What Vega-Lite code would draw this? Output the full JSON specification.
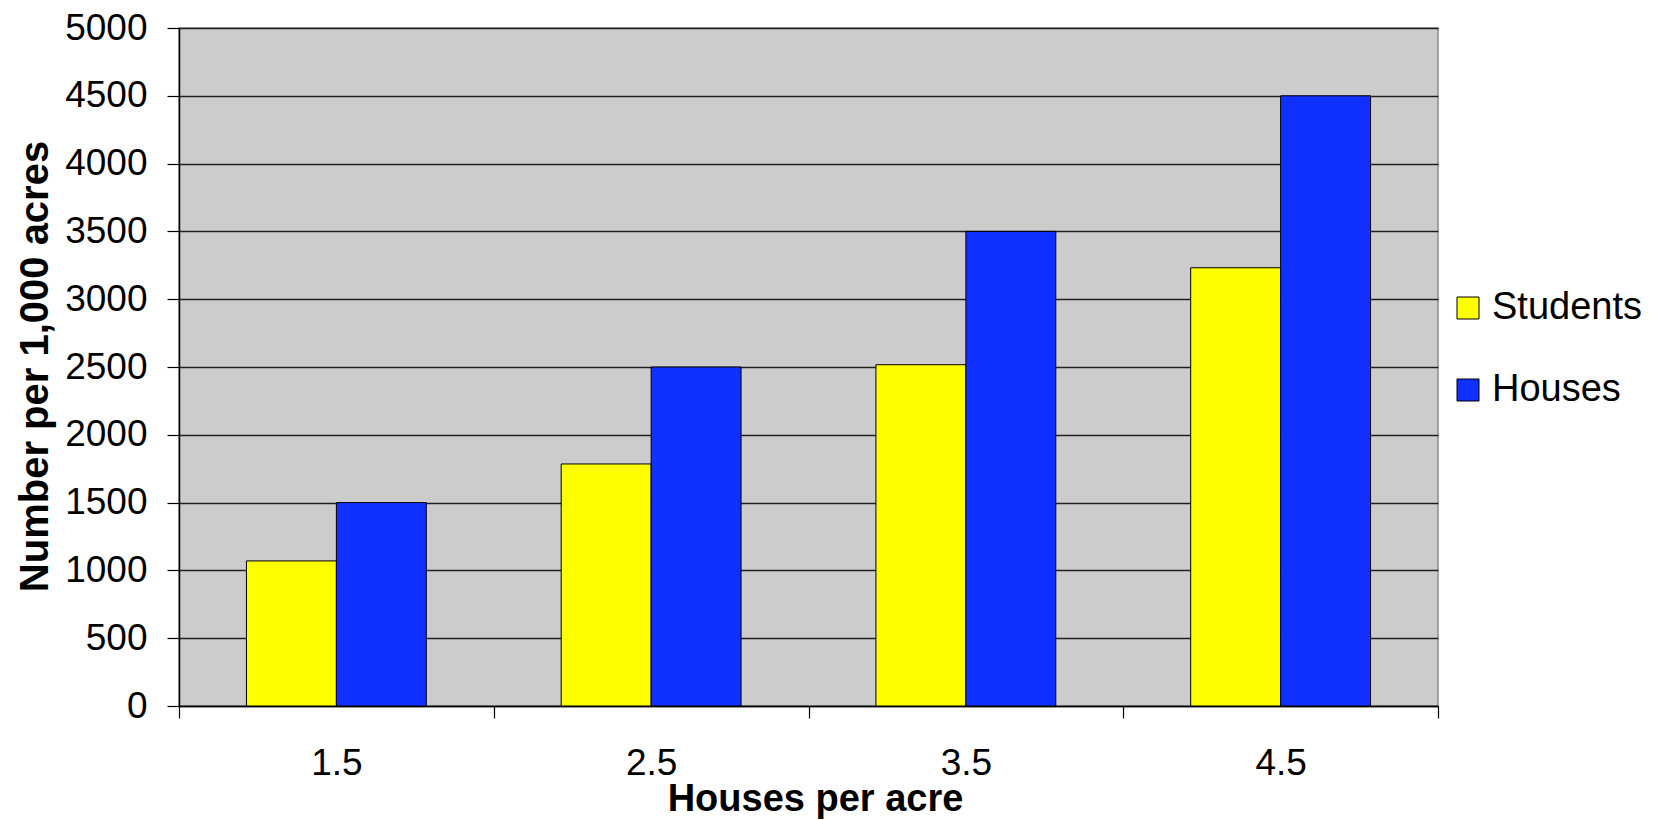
{
  "$schema": "https://vega.github.io/schema/vega-lite/v6.json",
  "width": 1259,
  "height": 678,
  "autosize": {"type": "none"},
  "padding": {"left": 179, "top": 28, "right": 221, "bottom": 114},
  "background": "white",
  "config": {
    "font": "Liberation Sans",
    "view": {"fill": "#CCCCCC", "stroke": "#8C8C8C", "strokeWidth": 1.5}
  },
  "data": {
    "values": [
      {"density": "1.5", "series": "Students", "value": 1070},
      {"density": "1.5", "series": "Houses", "value": 1500},
      {"density": "2.5", "series": "Students", "value": 1785},
      {"density": "2.5", "series": "Houses", "value": 2500},
      {"density": "3.5", "series": "Students", "value": 2517},
      {"density": "3.5", "series": "Houses", "value": 3500},
      {"density": "4.5", "series": "Students", "value": 3232},
      {"density": "4.5", "series": "Houses", "value": 4500}
    ]
  },
  "mark": {"type": "bar", "stroke": "#000000", "strokeWidth": 1},
  "encoding": {
    "x": {
      "field": "density",
      "type": "nominal",
      "sort": ["1.5", "2.5", "3.5", "4.5"],
      "scale": {"paddingInner": 0, "paddingOuter": 0},
      "axis": {
        "title": "Houses per acre",
        "titleFont": "Liberation Sans",
        "titleFontSize": 38,
        "titleFontWeight": "bold",
        "titleColor": "#000000",
        "titleBaseline": "alphabetic",
        "titleX": 636,
        "titleY": 104,
        "labelAngle": 0,
        "labelFontSize": 37,
        "labelColor": "#000000",
        "labelPadding": 27,
        "tickBand": "extent",
        "tickSize": 12,
        "tickColor": "#000000",
        "tickWidth": 1.2,
        "domainColor": "#000000",
        "domainWidth": 1.5,
        "grid": false
      }
    },
    "xOffset": {
      "field": "series",
      "type": "nominal",
      "sort": ["Students", "Houses"],
      "scale": {"paddingInner": 0, "paddingOuter": 0.75}
    },
    "y": {
      "field": "value",
      "type": "quantitative",
      "scale": {"domain": [0, 5000], "nice": false},
      "axis": {
        "title": "Number per 1,000 acres",
        "titleFont": "Liberation Sans",
        "titleFontSize": 40,
        "titleFontWeight": "bold",
        "titleColor": "#000000",
        "titleBaseline": "alphabetic",
        "titleX": -132,
        "titleY": 338,
        "values": [0, 500, 1000, 1500, 2000, 2500, 3000, 3500, 4000, 4500, 5000],
        "format": "d",
        "labelFontSize": 37,
        "labelColor": "#000000",
        "labelPadding": 20,
        "tickSize": 12,
        "tickColor": "#000000",
        "tickWidth": 1.2,
        "domainColor": "#000000",
        "domainWidth": 1.5,
        "grid": true,
        "gridColor": "#202020",
        "gridWidth": 1.3
      }
    },
    "color": {
      "field": "series",
      "type": "nominal",
      "scale": {"domain": ["Students", "Houses"], "range": ["#FFFF00", "#1030FF"]},
      "legend": {
        "title": null,
        "orient": "none",
        "legendX": 1270,
        "legendY": 261,
        "padding": 0,
        "symbolType": "square",
        "symbolSize": 484,
        "symbolStrokeColor": "#000000",
        "symbolStrokeWidth": 1,
        "labelFontSize": 38,
        "labelColor": "#000000",
        "labelOffset": 5,
        "rowPadding": 44
      }
    }
  }
}
